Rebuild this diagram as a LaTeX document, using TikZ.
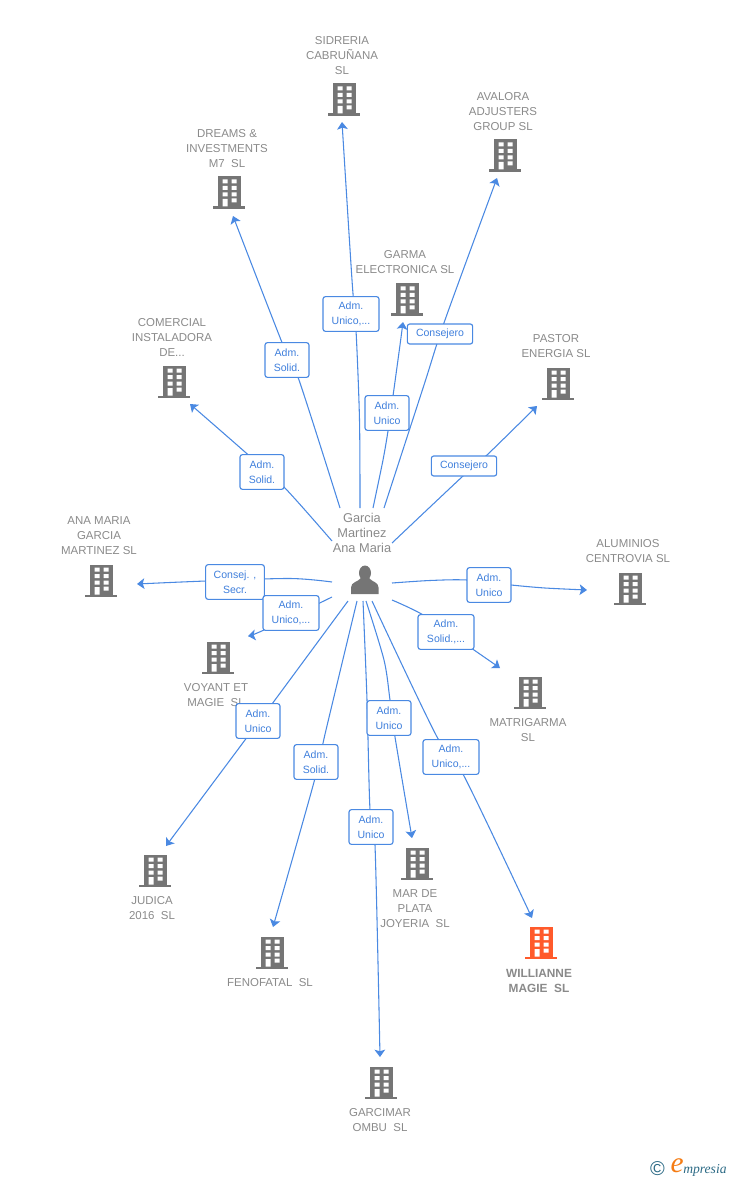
\documentclass[tikz,border=0pt]{standalone}
\usepackage{fontspec}
\setmainfont{Liberation Sans}
\newfontfamily\logofont{Liberation Serif}
\usetikzlibrary{arrows.meta}
\definecolor{bgray}{HTML}{757575}
\definecolor{tgray}{HTML}{8A8A8A}
\definecolor{linkb}{HTML}{4A89E2}
\definecolor{labb}{HTML}{3F7FDC}
\definecolor{orng}{HTML}{FF5A2B}
\definecolor{teal2}{HTML}{2C6A85}
\definecolor{logoor}{HTML}{F57C14}
\tikzset{
  capt/.style={text=tgray,align=center,inner sep=0pt,font=\fontsize{8.6pt}{11.25pt}\selectfont},
  captb/.style={capt,font=\fontsize{8.9pt}{11.25pt}\selectfont\bfseries},
  linkl/.style={draw=linkb,line width=0.8pt,-{Stealth[length=5.5pt,width=8pt,inset=1.2pt]}},
  tagg/.style={draw=linkb,line width=0.85pt,fill=white,rounded corners=1.8pt,text=labb,align=center,inner sep=0pt,
     font=\fontsize{7.9pt}{11.25pt}\selectfont},
  tagA/.style={tagg,minimum width=33pt,minimum height=26pt},
  tagB/.style={tagg,minimum width=42pt,minimum height=26pt},
  tagC/.style={tagg,minimum width=49pt,minimum height=15pt},
}
\newcommand{\bldg}[4]{%
  \node[inner sep=0pt,minimum width=24pt,minimum height=25pt] (#1) at (#2,#3) {};
  \begin{scope}[shift={(#2,#3)}]
    \fill[#4] (-11.5,-16.5) rectangle (11.5,14);
    \fill[#4] (-16,13.5) rectangle (16,16);
    \fill[white] (-6.5,-13.5) rectangle (-1.5,-9.5) (2.5,-13.5) rectangle (7.5,-9.5)
       (-6.5,-7) rectangle (-1.5,-3) (2.5,-7) rectangle (7.5,-3)
       (-6.5,-0.5) rectangle (-1.5,3.5) (2.5,-0.5) rectangle (7.5,3.5)
       (-6.5,6) rectangle (-1.5,13.5) (2.5,5.5) rectangle (7.5,9.5);
  \end{scope}}
\begin{document}
\begin{tikzpicture}[x=0.75pt,y=-0.75pt]
\useasboundingbox (0,0) rectangle (728,1180);
% buildings
\bldg{sid}{344}{100}{bgray}
\bldg{ava}{505}{156}{bgray}
\bldg{dre}{229}{193}{bgray}
\bldg{gar}{407}{300}{bgray}
\bldg{com}{174}{382}{bgray}
\bldg{pas}{558}{384}{bgray}
\bldg{ana}{101}{581}{bgray}
\bldg{alu}{630}{589}{bgray}
\bldg{voy}{218}{658}{bgray}
\bldg{mat}{530}{693}{bgray}
\bldg{jud}{155}{871}{bgray}
\bldg{mar}{417}{864}{bgray}
\bldg{fen}{272}{953}{bgray}
\bldg{wil}{541}{943}{orng}
\bldg{gcm}{381}{1083}{bgray}
% captions
\node[capt] (tsid) at (342,56) {SIDRERIA\\CABRUÑANA\\SL};
\node[capt] (tava) at (503,112) {AVALORA\\ADJUSTERS\\GROUP SL};
\node[capt] (tdre) at (227,149) {DREAMS \&\\INVESTMENTS\\M7~~SL};
\node[capt] (tgar) at (405,262.5) {GARMA\\ELECTRONICA SL};
\node[capt] (tcom) at (172,337) {COMERCIAL\\INSTALADORA\\DE...};
\node[capt] (tpas) at (556,346.5) {PASTOR\\ENERGIA SL};
\node[capt] (tana) at (99,536) {ANA MARIA\\GARCIA\\MARTINEZ SL};
\node[capt] (talu) at (628,551.5) {ALUMINIOS\\CENTROVIA SL};
\node[capt] (tvoy) at (216,695.5) {VOYANT ET\\MAGIE~~SL};
\node[capt] (tmat) at (528,730.5) {MATRIGARMA\\SL};
\node[capt] (tjud) at (152,908.5) {JUDICA\\2016~~SL};
\node[capt] (tmar) at (415,909) {MAR DE\\PLATA\\JOYERIA~~SL};
\node[capt] (tfen) at (270,983) {FENOFATAL~~SL};
\node[captb] (twil) at (539,980.5) {WILLIANNE\\MAGIE~~SL};
\node[capt] (tgcm) at (380,1120.5) {GARCIMAR\\OMBU~~SL};
% person
\node[inner sep=0pt,minimum width=24pt,minimum height=24pt] (per) at (365,580) {};
\fill[bgray] (365,573) ellipse (6 and 7.5);
\fill[bgray] (351,594) -- (351,587.5) .. controls (351,582) and (358,582) .. (361,578)
   -- (369,578) .. controls (372,582) and (378.5,582) .. (378.5,587.5) -- (378.5,594) -- cycle;
\node[capt,font=\fontsize{9.6pt}{11.25pt}\selectfont] (tper) at (362,532.5) {Garcia\\Martinez\\Ana Maria};
% connector ends
\foreach \n/\x/\y in {a1/360/508,a2/340/508,a3/384/508,a4/373/508,a5/332/541,a6/392/543,a7/332/582,a8/332/597,
   a9/348/601,a10/357/601,a11/363/601,a12/366/601,a13/372/601,a14/392/600,a15/392/583}
  \coordinate (\n) at (\x,\y);
\foreach \n/\x/\y in {b1/342/122,b2/233/216,b3/497/178,b4/403/322,b5/190/404,b6/537/406,b7/137/584,b8/248/636,
   b9/166/846,b10/273/927,b11/380/1057,b12/412/838,b13/532/918,b14/500/668,b15/587/590}
  \coordinate (\n) at (\x,\y);
% labels positions
\coordinate (c1) at (351,314);
\coordinate (c2) at (287,360);
\coordinate (c3) at (440,334);
\coordinate (c4) at (387,413);
\coordinate (c5) at (262,472);
\coordinate (c6) at (464,466);
\coordinate (c7) at (235,582);
\coordinate (c8) at (291,613);
\coordinate (c9) at (258,721);
\coordinate (c10) at (316,762);
\coordinate (c11) at (371,827);
\coordinate (c12) at (389,718);
\coordinate (c13) at (451,757);
\coordinate (c14) at (446,632);
\coordinate (c15) at (489,585);
% connectors
\draw[linkl] plot[smooth] coordinates {(a1) (359.5,420) (356,330) (352,280) (b1)};
\draw[linkl] plot[smooth] coordinates {(a2) (299,380) (283,345) (b2)};
\draw[linkl] plot[smooth] coordinates {(a3) (424,385) (445,320) (b3)};
\draw[linkl] plot[smooth] coordinates {(a4) (383,460) (388,431) (393,396) (400,345) (b4)};
\draw[linkl] plot[smooth] coordinates {(a5) (284,487) (245,452) (b5)};
\draw[linkl] plot[smooth] coordinates {(a6) (463,476) (487,455) (b6)};
\draw[linkl] plot[smooth] coordinates {(a7) (290,578.5) (206,581) (b7)};
\draw[linkl] plot[smooth] coordinates {(a8) (264,630) (b8)};
\draw[linkl] plot[smooth] coordinates {(a9) (272,704) (245,740) (b9)};
\draw[linkl] plot[smooth] coordinates {(a10) (326,730) (314,782) (b10)};
\draw[linkl] plot[smooth] coordinates {(a11) (367,700) (370,810) (375,845) (b11)};
\draw[linkl] plot[smooth] coordinates {(a12) (384,660) (390,700) (395,737) (b12)};
\draw[linkl] plot[smooth] coordinates {(a13) (436,735) (464,776) (b13)};
\draw[linkl] plot[smooth] coordinates {(a14) (425,616) (474,650) (b14)};
\draw[linkl] plot[smooth] coordinates {(a15) (430,580.5) (467,580) (511,585) (545,588) (b15)};
% tags
\node[tagB] (l1) at (c1) {Adm.\\Unico,...};
\node[tagA] (l2) at (c2) {Adm.\\Solid.};
\node[tagC] (l3) at (c3) {Consejero};
\node[tagA] (l4) at (c4) {Adm.\\Unico};
\node[tagA] (l5) at (c5) {Adm.\\Solid.};
\node[tagC] (l6) at (c6) {Consejero};
\node[tagB,minimum width=44pt] (l7) at (c7) {Consej. ,\\Secr.};
\node[tagB] (l8) at (c8) {Adm.\\Unico,...};
\node[tagA] (l9) at (c9) {Adm.\\Unico};
\node[tagA] (l10) at (c10) {Adm.\\Solid.};
\node[tagA] (l11) at (c11) {Adm.\\Unico};
\node[tagA] (l12) at (c12) {Adm.\\Unico};
\node[tagB] (l13) at (c13) {Adm.\\Unico,...};
\node[tagB] (l14) at (c14) {Adm.\\Solid.,...};
\node[tagA] (l15) at (c15) {Adm.\\Unico};
% logo
\node[text=teal2,inner sep=0pt,font=\fontsize{15pt}{15pt}\selectfont] (lc) at (657.5,1168.5) {\char"00A9};
\node[text=logoor,inner sep=0pt,font=\logofont\itshape\fontsize{22pt}{22pt}\selectfont] (le) at (677,1165.5) {e};
\node[text=teal2,inner sep=0pt,anchor=west,font=\logofont\itshape\fontsize{10.2pt}{12pt}\selectfont] (lm) at (683,1170) {mpresia};
\end{tikzpicture}
\end{document}
